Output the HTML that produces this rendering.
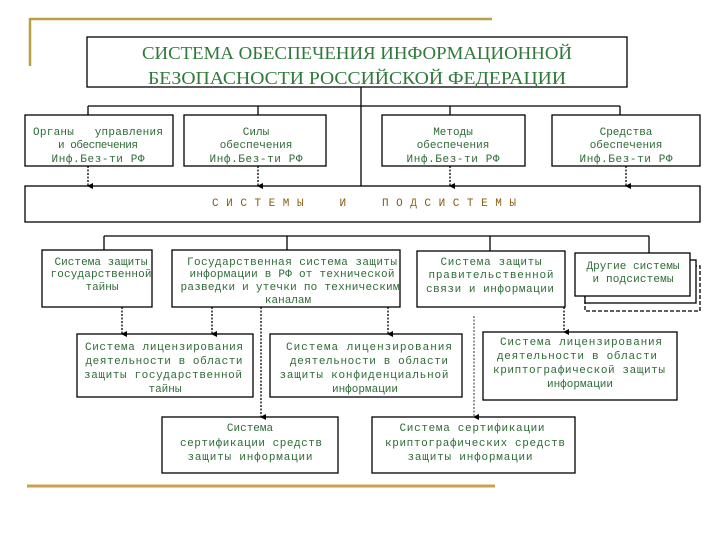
<!DOCTYPE html>
<html><head><meta charset="utf-8"><style>
html,body{margin:0;padding:0;background:#fff;}
svg{display:block;}
text{font-family:"Liberation Mono","DejaVu Sans Mono",monospace;font-size:11px;fill:#2d6b35;text-anchor:middle;white-space:pre;}
.t{font-family:"Liberation Serif",serif;font-size:18px;fill:#2f7a3a;}
.s{fill:#8a5a10;font-size:11px;}
</style></head><body>
<svg width="720" height="540" viewBox="0 0 720 540" xmlns="http://www.w3.org/2000/svg" xml:space="preserve">
<defs><marker id="a" markerWidth="6" markerHeight="6" refX="3" refY="5" orient="auto" markerUnits="userSpaceOnUse"><path d="M0,0 L6,0 L3,6 z" fill="#000"/></marker></defs>
<g stroke="#b8a040" stroke-width="2.5" fill="none">
<line x1="30" y1="19" x2="492" y2="19"/><line x1="30" y1="18" x2="30" y2="66"/>
</g>
<line x1="27" y1="486" x2="495" y2="486" stroke="#c8a050" stroke-width="3"/>
<g stroke="#000" stroke-width="1.3" fill="#fff">
<rect x="87" y="37" width="540" height="50"/>
<line x1="361" y1="87" x2="361" y2="186"/>
<line x1="88" y1="106" x2="620" y2="106"/>
<line x1="88" y1="106" x2="88" y2="115"/><line x1="258" y1="106" x2="258" y2="115"/>
<line x1="450" y1="106" x2="450" y2="115"/><line x1="620" y1="106" x2="620" y2="115"/>
<rect x="25" y="115" width="148" height="51"/>
<rect x="184" y="115" width="142" height="51"/>
<rect x="382" y="115" width="143" height="51"/>
<rect x="552" y="115" width="148" height="51"/>
<rect x="25" y="186" width="675" height="36"/>
<line x1="104" y1="236" x2="649" y2="236"/>
<line x1="104" y1="236" x2="104" y2="250"/><line x1="287" y1="236" x2="287" y2="250"/>
<line x1="490" y1="236" x2="490" y2="251"/><line x1="649" y1="236" x2="649" y2="253"/>
<rect x="42" y="250" width="110" height="57"/>
<rect x="172" y="250" width="228" height="57"/>
<rect x="417" y="251" width="148" height="56"/>
<rect x="585" y="266" width="115" height="45" stroke-dasharray="4,2"/>
<rect x="585" y="260" width="111" height="43"/>
<rect x="575" y="253" width="115" height="43"/>
<rect x="77" y="334" width="176" height="63"/>
<rect x="270" y="334" width="192" height="63"/>
<rect x="483" y="332" width="194" height="68"/>
<rect x="162" y="417" width="176" height="56"/>
<rect x="372" y="417" width="203" height="56"/>
</g>
<g stroke="#000" stroke-width="1.3" stroke-dasharray="2,1.5" fill="none" marker-end="url(#a)">
<line x1="88" y1="166" x2="88" y2="186"/><line x1="258" y1="166" x2="258" y2="186"/>
<line x1="450" y1="166" x2="450" y2="186"/><line x1="626" y1="166" x2="626" y2="186"/>
<line x1="122" y1="307" x2="122" y2="334"/><line x1="212" y1="307" x2="212" y2="334"/>
<line x1="261" y1="307" x2="261" y2="417"/><line x1="388" y1="307" x2="388" y2="334"/>
<line x1="474" y1="316" x2="474" y2="417" stroke-width="0.8"/><line x1="564" y1="307" x2="564" y2="332"/>
</g>
<text class="t" x="357" y="59" textLength="430" lengthAdjust="spacingAndGlyphs">СИСТЕМА ОБЕСПЕЧЕНИЯ ИНФОРМАЦИОННОЙ</text>
<text class="t" x="357" y="84" textLength="418" lengthAdjust="spacingAndGlyphs">БЕЗОПАСНОСТИ РОССИЙСКОЙ ФЕДЕРАЦИИ</text>
<text x="98" y="135" textLength="130">Органы   управления</text>
<text x="98" y="148" textLength="80">и обеспечения</text>
<text x="98" y="162" textLength="93">Инф.Без-ти РФ</text>
<text x="256" y="135">Силы</text>
<text x="256" y="148">обеспечения</text>
<text x="256" y="162" textLength="93">Инф.Без-ти РФ</text>
<text x="453" y="135">Методы</text>
<text x="453" y="148">обеспечения</text>
<text x="453" y="162" textLength="93">Инф.Без-ти РФ</text>
<text x="626" y="135">Средства</text>
<text x="626" y="148">обеспечения</text>
<text x="626" y="162" textLength="93">Инф.Без-ти РФ</text>
<text class="s" x="364" y="206" textLength="304">С И С Т Е М Ы     И     П О Д С И С Т Е М Ы</text>
<text x="101" y="265" textLength="93">Система защиты</text>
<text x="101" y="277" textLength="101">государственной</text>
<text x="102" y="290">тайны</text>
<text x="292" y="265" textLength="210">Государственная система защиты</text>
<text x="292" y="277" textLength="205">информации в РФ от технической</text>
<text x="290" y="290" textLength="219">разведки и утечки по техническим</text>
<text x="288" y="303">каналам</text>
<text x="491" y="265" textLength="101">Система защиты</text>
<text x="491" y="278" textLength="125">правительственной</text>
<text x="490" y="292" textLength="128">связи и информации</text>
<text x="633" y="269" textLength="93">Другие системы</text>
<text x="633" y="282" textLength="81">и подсистемы</text>
<text x="164" y="350" textLength="158">Система лицензирования</text>
<text x="164" y="364" textLength="157">деятельности в области</text>
<text x="163" y="378" textLength="158">защиты государственной</text>
<text x="165" y="392">тайны</text>
<text x="369" y="350" textLength="166">Система лицензирования</text>
<text x="369" y="364" textLength="158">деятельности в области</text>
<text x="364" y="378" textLength="169">защиты конфиденциальной</text>
<text x="365" y="392">информации</text>
<text x="581" y="345" textLength="162">Система лицензирования</text>
<text x="577" y="359" textLength="160">деятельности в области</text>
<text x="579" y="373" textLength="172">криптографической защиты</text>
<text x="580" y="387">информации</text>
<text x="250" y="431">Система</text>
<text x="251" y="446" textLength="142">сертификации средств</text>
<text x="250" y="460" textLength="125">защиты информации</text>
<text x="472" y="431" textLength="145">Система сертификации</text>
<text x="475" y="446" textLength="180">криптографических средств</text>
<text x="470" y="460" textLength="125">защиты информации</text>
</svg>
</body></html>
